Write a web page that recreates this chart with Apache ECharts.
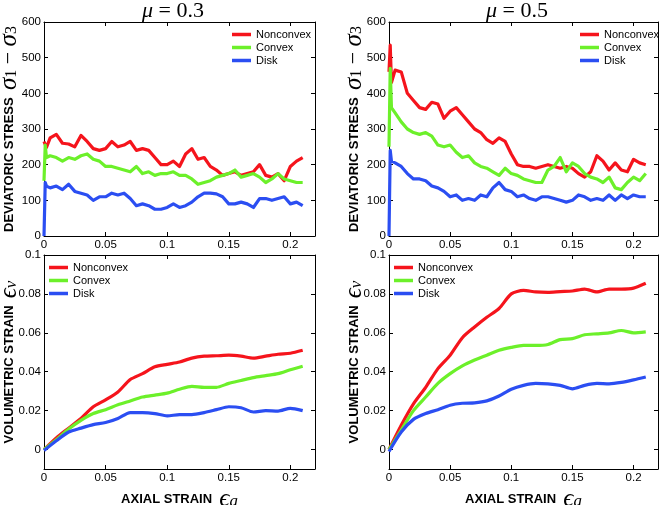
<!DOCTYPE html>
<html><head><meta charset="utf-8">
<script src="https://cdn.jsdelivr.net/npm/echarts@6/dist/echarts.min.js"></script>
<style>html,body{margin:0;padding:0;background:#fff}#c{width:660px;height:505px}</style>
</head><body><div id="c"></div><script>
// ---------- data ----------
const seriesNames = ['Nonconvex', 'Convex', 'Disk'];
const seriesColors = ['#f5141c', '#6cf02a', '#2b4ef2'];
const xTicks = [0, 0.05, 0.1, 0.15, 0.2];
const stressTicks = [0, 100, 200, 300, 400, 500, 600];
const volTicks = [0, 0.02, 0.04, 0.06, 0.08, 0.1];

// axial strain samples for stress curves
const strainStress = [0, 0.001, 0.002,
  0.005, 0.01, 0.015, 0.02, 0.025, 0.03, 0.035, 0.04, 0.045, 0.05,
  0.055, 0.06, 0.065, 0.07, 0.075, 0.08, 0.085, 0.09, 0.095, 0.1,
  0.105, 0.11, 0.115, 0.12, 0.125, 0.13, 0.135, 0.14, 0.145, 0.15,
  0.155, 0.16, 0.165, 0.17, 0.175, 0.18, 0.185, 0.19, 0.195, 0.2, 0.205, 0.21];

// mu = 0.3 deviatoric stress
const nonconvexStress03 = [265, 270, 248,
  275, 285, 260, 258, 250, 282, 265, 245, 240, 245,
  265, 250, 255, 265, 240, 245, 240, 220, 200, 200,
  210, 195, 230, 245, 215, 220, 195, 185, 170, 175,
  180, 170, 175, 180, 200, 170, 165, 175, 155, 195, 210, 220];
const convexStress03 = [155, 255, 220,
  225, 220, 210, 220, 215, 225, 230, 215, 210, 195,
  195, 190, 185, 180, 195, 175, 180, 170, 175, 175,
  180, 170, 170, 160, 145, 150, 155, 165, 170, 175,
  185, 165, 170, 175, 165, 150, 160, 175, 160, 155, 150, 150];
const diskStress03 = [0, 150, 140,
  135, 140, 130, 145, 125, 120, 115, 100, 110, 110,
  120, 115, 120, 105, 85, 90, 85, 75, 75, 80,
  90, 80, 85, 95, 110, 120, 120, 118, 110, 90,
  90, 95, 90, 80, 105, 105, 100, 105, 110, 90, 95, 85];

// mu = 0.5 deviatoric stress
const nonconvexStress05 = [460, 535, 430,
  465, 460, 400, 380, 360, 355, 375, 370, 330, 350,
  360, 340, 320, 300, 290, 270, 260, 275, 265, 230,
  200, 195, 195, 190, 195, 200, 195, 190, 195, 190,
  175, 165, 180, 225, 210, 185, 205, 185, 180, 215, 205, 200];
const convexStress05 = [250, 470, 360,
  345, 320, 300, 290, 285, 290, 280, 255, 250, 255,
  235, 220, 225, 205, 195, 190, 180, 170, 190, 175,
  170, 160, 155, 150, 150, 185, 195, 220, 180, 205,
  195, 175, 165, 160, 150, 165, 135, 130, 150, 165, 155, 175];
const diskStress05 = [0, 240, 210,
  205, 195, 175, 160, 160, 155, 140, 135, 125, 110,
  115, 100, 105, 100, 115, 110, 135, 150, 130, 125,
  110, 115, 105, 100, 110, 110, 105, 100, 95, 100,
  115, 110, 100, 105, 100, 115, 100, 115, 105, 115, 110, 110];

// axial strain samples for volumetric curves
const strainVol = [0, 0.01, 0.02, 0.03, 0.04, 0.05, 0.06, 0.07, 0.08, 0.09, 0.1,
  0.11, 0.12, 0.13, 0.14, 0.15, 0.16, 0.17, 0.18, 0.19, 0.2, 0.21];

// mu = 0.3 volumetric strain
const nonconvexVol03 = [0, 0.006, 0.011, 0.016, 0.022, 0.0255, 0.0296, 0.036, 0.039, 0.0425, 0.0438,
  0.045, 0.047, 0.048, 0.0482, 0.0485, 0.048, 0.047, 0.048, 0.049, 0.0495, 0.051];
const convexVol03 = [0, 0.005, 0.0105, 0.015, 0.0185, 0.0205, 0.023, 0.025, 0.027, 0.028, 0.029,
  0.031, 0.0325, 0.032, 0.032, 0.034, 0.0355, 0.037, 0.038, 0.039, 0.041, 0.0428];
const diskVol03 = [-0.0005, 0.0045, 0.009, 0.011, 0.0128, 0.0139, 0.016, 0.019, 0.019, 0.0185, 0.0173,
  0.018, 0.018, 0.019, 0.0205, 0.022, 0.0215, 0.0193, 0.020, 0.0198, 0.0212, 0.020];

// mu = 0.5 volumetric strain
const nonconvexVol05 = [0, 0.0125, 0.0235, 0.032, 0.0416, 0.0485, 0.0575, 0.063, 0.068, 0.0725, 0.080,
  0.0818, 0.081, 0.0808, 0.0812, 0.0815, 0.0825, 0.081, 0.0825, 0.0825, 0.083, 0.0855];
const convexVol05 = [0, 0.010, 0.020, 0.027, 0.034, 0.039, 0.043, 0.046, 0.0485, 0.051, 0.0525,
  0.0535, 0.0535, 0.054, 0.0565, 0.057, 0.059, 0.0595, 0.060, 0.0612, 0.060, 0.0605];
const diskVol05 = [-0.001, 0.009, 0.0155, 0.0185, 0.0205, 0.0228, 0.0238, 0.024, 0.025, 0.0275, 0.031,
  0.033, 0.034, 0.0338, 0.033, 0.0312, 0.033, 0.034, 0.0338, 0.0345, 0.0358, 0.0373];

// ---------- chart ----------
const SANS = 'Liberation Sans, Arial, Helvetica, sans-serif';
const SERIF = 'Liberation Serif, DejaVu Serif, serif';
const zip = (xs, ys) => xs.map((x, i) => [x, ys[i]]);

const gridBase = {containLabel: false, outerBoundsMode: 'none'};
const grids = [
  Object.assign({left: 44, top: 22, width: 271, height: 214}, gridBase),
  Object.assign({left: 389, top: 22, width: 269, height: 214}, gridBase),
  Object.assign({left: 44, top: 255, width: 271, height: 214}, gridBase),
  Object.assign({left: 389, top: 255, width: 269, height: 214}, gridBase)
];

const nameRich = {
  t: {fontFamily: SANS, fontWeight: 'bold', fontSize: 13, color: '#000', lineHeight: 22},
  g: {fontFamily: SERIF, fontStyle: 'italic', fontWeight: 'normal', fontSize: 25, color: '#000', lineHeight: 22},
  o: {fontFamily: SERIF, fontWeight: 'normal', fontSize: 22, color: '#000', lineHeight: 22},
  s: {fontFamily: SERIF, fontWeight: 'normal', fontSize: 16, color: '#000', lineHeight: 22, verticalAlign: 'bottom'},
  si: {fontFamily: SERIF, fontStyle: 'italic', fontWeight: 'normal', fontSize: 17, color: '#000', lineHeight: 22, verticalAlign: 'bottom'}
};

function makeX(gi, main, name) {
  return {
    type: 'value', gridIndex: gi, position: main ? 'bottom' : 'top',
    min: 0, max: 0.22,
    axisLine: {show: true, onZero: false, lineStyle: {color: '#000', width: 1}},
    axisTick: {show: true, inside: true, length: 4, customValues: xTicks, lineStyle: {color: '#000'}},
    axisLabel: {show: main, customValues: xTicks, margin: 3, color: '#000', fontSize: 11.5, fontFamily: SANS},
    splitLine: {show: false},
    name: name || '', nameLocation: 'middle', nameGap: 19,
    nameTextStyle: {rich: nameRich}
  };
}
function makeY(gi, main, min, max, ticks, name) {
  return {
    type: 'value', gridIndex: gi, position: main ? 'left' : 'right',
    min: min, max: max,
    axisLine: {show: true, onZero: false, lineStyle: {color: '#000', width: 1}},
    axisTick: {show: true, inside: true, length: 4, customValues: ticks, lineStyle: {color: '#000'}},
    axisLabel: {show: main, customValues: ticks, margin: 3, color: '#000', fontSize: 11.5, fontFamily: SANS},
    splitLine: {show: false},
    name: name || '', nameLocation: 'middle', nameGap: 24, nameRotate: 90,
    nameMoveOverlap: false,
    nameTextStyle: {rich: nameRich}
  };
}

const stressName = '{t|DEVIATORIC STRESS  }{g|σ}{s|1}{o| − }{g|σ}{s|3}';
const volName = '{t|VOLUMETRIC STRAIN  }{g|ϵ}{si|v}';
const axialName = '{t|AXIAL STRAIN  }{g|ϵ}{si|a}';

const xAxis = [], yAxis = [];
for (let g = 0; g < 4; g++) {
  const bottom = g >= 2;
  xAxis.push(makeX(g, true, bottom ? axialName : ''));
  xAxis.push(makeX(g, false, ''));
  if (!bottom) {
    yAxis.push(makeY(g, true, 0, 600, stressTicks, stressName));
    yAxis.push(makeY(g, false, 0, 600, stressTicks, ''));
  } else {
    yAxis.push(makeY(g, true, -0.01, 0.1, volTicks, volName));
    yAxis.push(makeY(g, false, -0.01, 0.1, volTicks, ''));
  }
}

const panelData = [
  [strainStress, [nonconvexStress03, convexStress03, diskStress03]],
  [strainStress, [nonconvexStress05, convexStress05, diskStress05]],
  [strainVol, [nonconvexVol03, convexVol03, diskVol03]],
  [strainVol, [nonconvexVol05, convexVol05, diskVol05]]
];
const series = [];
panelData.forEach(([xs, ys], g) => {
  ys.forEach((arr, k) => {
    series.push({
      type: 'line', name: seriesNames[k], xAxisIndex: 2 * g, yAxisIndex: 2 * g,
      data: zip(xs, arr), showSymbol: false, symbol: 'none',
      lineStyle: {color: seriesColors[k], width: 3.2, join: 'round'},
      itemStyle: {color: seriesColors[k]},
      smooth: g >= 2 ? 0.25 : false,
      clip: true
    });
  });
});

const legendPos = [
  {left: 232, top: 28}, {left: 580, top: 28},
  {left: 49, top: 261}, {left: 394, top: 261}
];
const legend = legendPos.map(p => ({
  left: p.left, top: p.top, orient: 'vertical', data: seriesNames,
  icon: 'rect', itemWidth: 19, itemHeight: 3.5, itemGap: 0, padding: 0,
  textStyle: {fontFamily: SANS, fontSize: 11, color: '#000', lineHeight: 13}
}));

const titleRich = {
  m: {fontFamily: SERIF, fontStyle: 'italic', fontWeight: 'normal', fontSize: 22, color: '#000'},
  n: {fontFamily: SERIF, fontWeight: 'normal', fontSize: 22, color: '#000'}
};
const title = [
  {text: '{m|μ}{n| = 0.3}', left: 168, top: -5, textAlign: 'center', textStyle: {fontWeight: 'normal', rich: titleRich}},
  {text: '{m|μ}{n| = 0.5}', left: 512, top: -5, textAlign: 'center', textStyle: {fontWeight: 'normal', rich: titleRich}}
];

const chart = echarts.init(document.getElementById('c'), null, {renderer: 'canvas'});
chart.setOption({
  animation: false, backgroundColor: '#fff',
  title, legend, grid: grids, xAxis, yAxis, series
});
</script></body></html>
